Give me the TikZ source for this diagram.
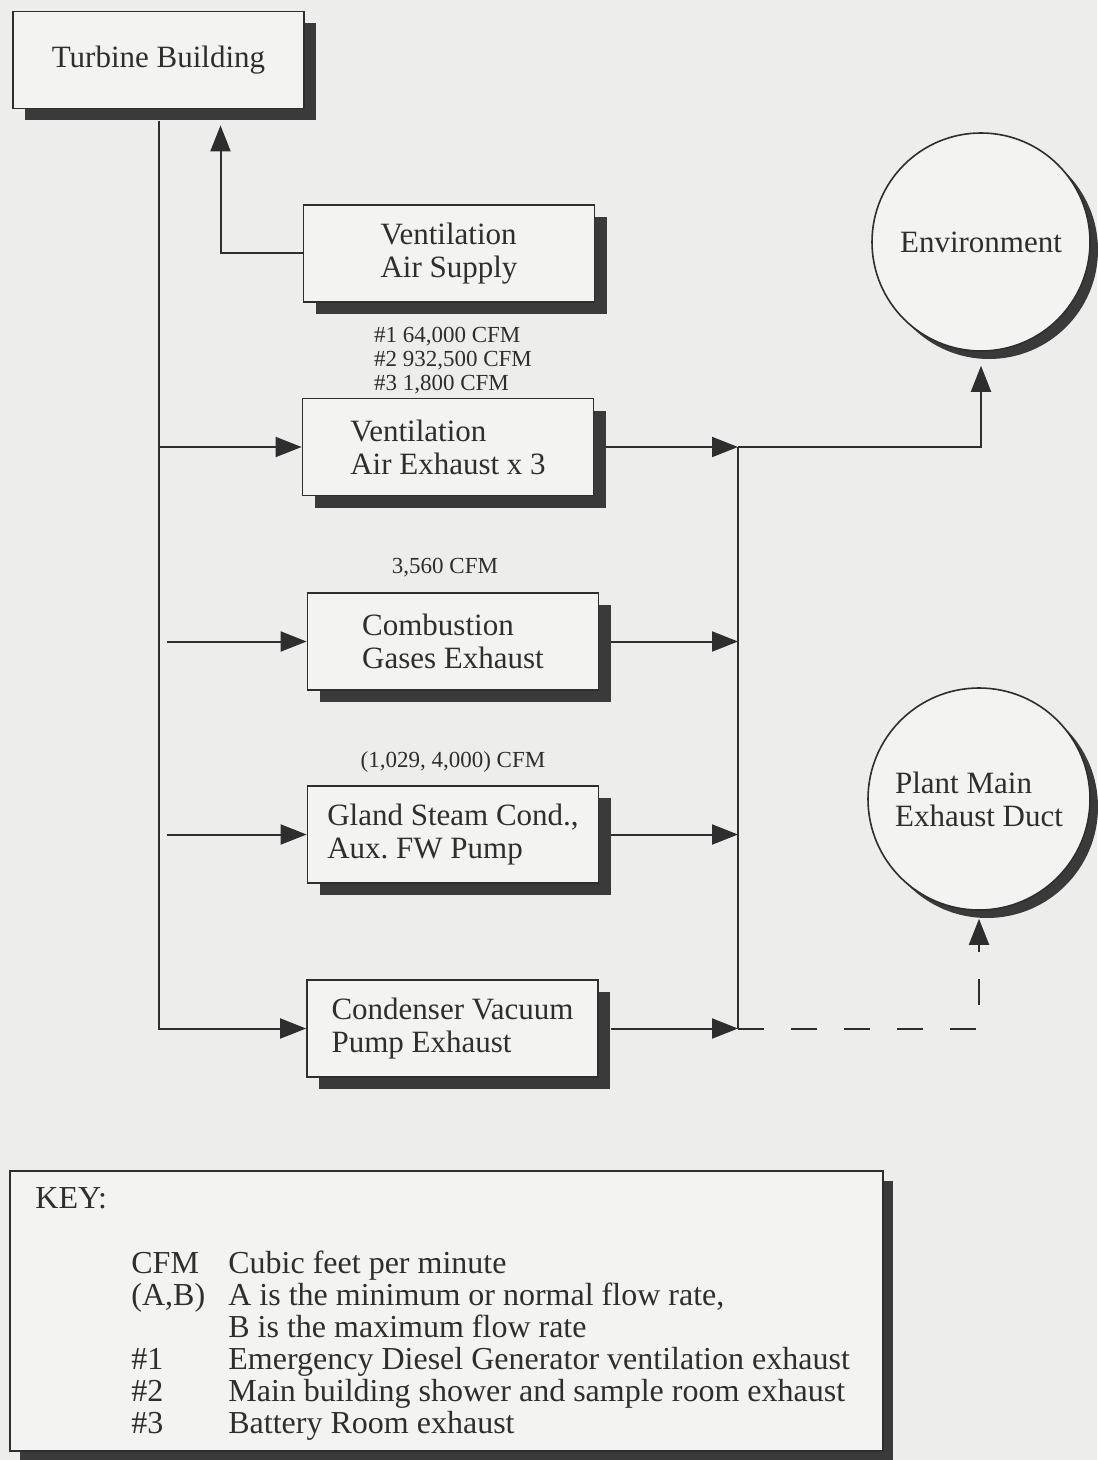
\documentclass[tikz,border=0pt]{standalone}
\usepackage{fontspec}
\setmainfont{Liberation Serif}
\usetikzlibrary{arrows.meta,shadows}
\definecolor{tbpaper}{HTML}{EDEDEB}
\definecolor{tbfill}{HTML}{F3F3F1}
\definecolor{tbink}{HTML}{2E2E2E}
\definecolor{tbshade}{HTML}{3A3A3A}
\newcommand{\boxfont}{\fontsize{15.5}{16.5}\selectfont}
\newcommand{\ratefont}{\fontsize{11.5}{12}\selectfont}
\newcommand{\keyfont}{\fontsize{16}{16}\selectfont}
\frenchspacing
\tikzset{
  unitbox/.style = {draw=tbink, fill=tbfill, line width=0.9pt, align=left,
                    font=\boxfont, text=tbink, inner sep=4pt,
                    minimum width=145.5pt, minimum height=48.5pt,
                    drop shadow={opacity=1, fill=tbshade,
                                 shadow xshift=6pt, shadow yshift=-6pt}},
  sink/.style    = {circle, draw=tbink, fill=tbfill, line width=0.8pt,
                    align=left, font=\boxfont, text=tbink, inner sep=0pt,
                    drop shadow={opacity=1, fill=tbshade,
                                 shadow xshift=4pt, shadow yshift=-4pt}},
  keybox/.style  = {draw=tbink, fill=tbfill, line width=0.9pt,
                    minimum width=436.5pt, minimum height=140pt,
                    drop shadow={opacity=1, fill=tbshade,
                                 shadow xshift=5pt, shadow yshift=-5pt}},
  rate/.style    = {font=\ratefont, align=left, text=tbink, inner sep=0pt},
  keytext/.style = {font=\keyfont, text=tbink, inner sep=0pt},
  wire/.style    = {draw=tbink, line width=1pt},
  flow/.style    = {-{Triangle[length=13pt,width=10pt]}, draw=tbink,
                    line width=1pt},
  leak/.style    = {flow, dash pattern=on 13pt off 13.5pt},
}

\begin{document}
\begin{tikzpicture}[x=0.5pt, y=-0.5pt]

  % ---------- page --------------------------------------------------------
  \fill[tbpaper] (0,0) rectangle (1097,1460);
  \useasboundingbox (0,0) rectangle (1097,1460);

  % ---------- source and units --------------------------------------------
  \node[unitbox, align=center] (tb) at (158.5,60) {Turbine Building};

  \node[unitbox] (vas) at (449,253.5)  {Ventilation\\Air Supply};
  \node[unitbox] (vae) at (448,447)    {Ventilation\\Air Exhaust x 3};
  \node[unitbox] (cge) at (453,641.5)  {Combustion\\Gases Exhaust};
  \node[unitbox] (gsc) at (453,834.5)  {Gland Steam Cond.,\\Aux. FW Pump};
  \node[unitbox] (cvp) at (452.5,1028.5) {Condenser Vacuum\\Pump Exhaust};

  % ---------- flow rates --------------------------------------------------
  \node[rate] (r1) at (453,361)
    {\#1 64,000 CFM\\ \#2 932,500 CFM\\ \#3 1,800 CFM};
  \node[rate] (r2) at (445,568) {3,560 CFM};
  \node[rate] (r3) at (453,762) {(1,029, 4,000) CFM};

  % ---------- receivers ---------------------------------------------------
  \node[sink, minimum size=109pt, align=center] (env) at (981,242)
    {Environment};
  \node[sink, minimum size=111pt] (pme) at (979,799)
    {Plant Main\\Exhaust Duct};

  % ---------- connectors --------------------------------------------------
  \coordinate (tbin) at ([xshift=31pt,yshift=-8pt]tb.south);
  \coordinate (bus)  at (738,0);

  \draw[flow] (vas.west) -| (tbin);
  \draw[flow] ([yshift=-6pt]tb.south) |- (cvp.west);
  \draw[flow] (tb.south |- vae.west) -- (vae.west);
  \draw[flow] ([xshift=4pt]tb.south |- cge.west) -- (cge.west);
  \draw[flow] ([xshift=4pt]tb.south |- gsc.west) -- (gsc.west);

  \draw[flow] ([xshift=6pt]vae.east) -- (vae.east -| bus);
  \draw[flow] ([xshift=6pt]cge.east) -- (cge.east -| bus);
  \draw[flow] ([xshift=6pt]gsc.east) -- (gsc.east -| bus);
  \draw[flow] ([xshift=6pt]cvp.east) -- (cvp.east -| bus);
  \draw[wire] (vae.east -| bus) -- (cvp.east -| bus);

  \draw[flow] (vae.east -| bus) -| ([yshift=-7pt]env.south);
  \draw[leak] (cvp.east -| bus) -| ([yshift=-4pt]pme.south);

  % ---------- key ---------------------------------------------------------
  \node[keybox] (key) at (446.5,1311) {};
  \node[keytext, anchor=base west] (keyhead) at (35,1208) {KEY:};
  \node[keytext, anchor=base west] (keylist) at (131,1273)
    {\begin{tabular}[t]{@{}p{48.5pt}@{}l@{}}
       CFM   & Cubic feet per minute\\
       (A,B) & A is the minimum or normal flow rate,\\
             & B is the maximum flow rate\\
       \#1   & Emergency Diesel Generator ventilation exhaust\\
       \#2   & Main building shower and sample room exhaust\\
       \#3   & Battery Room exhaust
     \end{tabular}};

\end{tikzpicture}
\end{document}
